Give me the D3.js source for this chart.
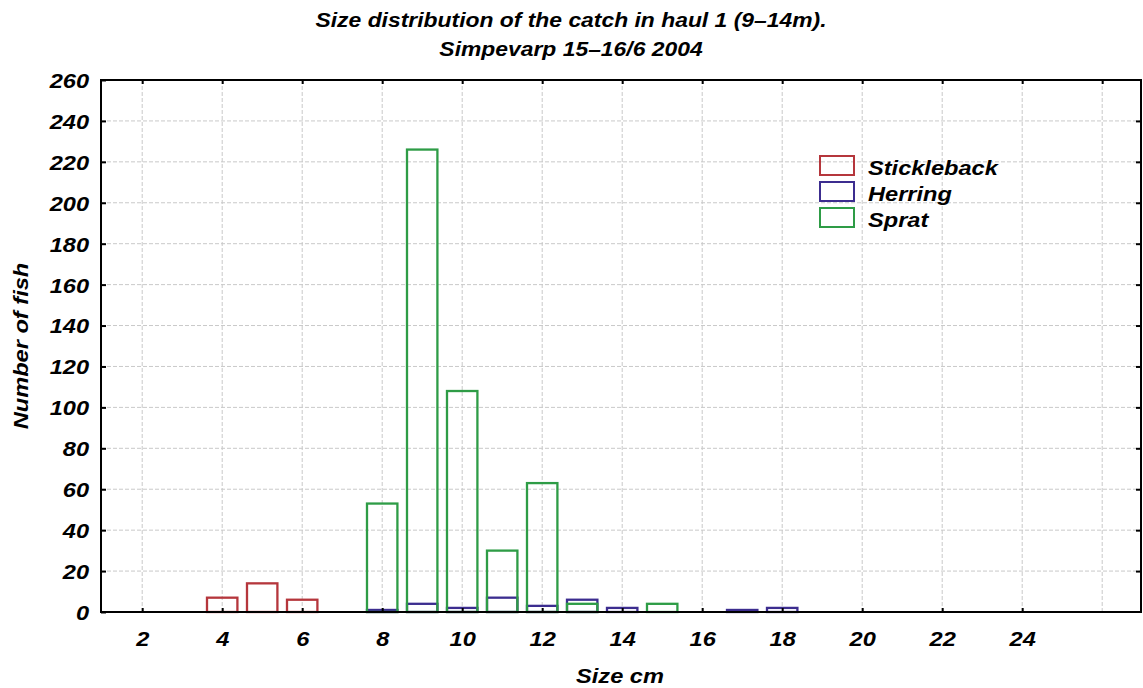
<!DOCTYPE html>
<html>
<head>
<meta charset="utf-8">
<script src="https://cdn.jsdelivr.net/npm/d3@7"></script>
<style>
  body { margin: 0; background: #fff; }
  text { font-family: "Liberation Sans", Arial, sans-serif; font-weight: bold; font-style: italic; fill: #000; }
</style>
</head>
<body>
<div id="chart"></div>
<script>
// Size classes (cm) and catch counts per species
var sizes       = [1, 2, 3, 4, 5, 6, 7, 8, 9, 10, 11, 12, 13, 14, 15, 16, 17, 18, 19, 20, 21, 22, 23, 24, 25, 26];
var stickleback = [0, 0, 0, 7, 14, 6, 0, 0, 0, 0, 0, 0, 0, 0, 0, 0, 0, 0, 0, 0, 0, 0, 0, 0, 0, 0];
var herring     = [0, 0, 0, 0, 0, 0, 0, 1, 4, 2, 7, 3, 6, 2, 0, 0, 1, 2, 0, 0, 0, 0, 0, 0, 0, 0];
var sprat       = [0, 0, 0, 0, 0, 0, 0, 53, 226, 108, 30, 63, 4, 0, 4, 0, 0, 0, 0, 0, 0, 0, 0, 0, 0, 0];

var seriesNames  = ["Stickleback", "Herring", "Sprat"];
var seriesColors = ["#b5363c", "#3c2d8f", "#2e9c46"];

var xTicks = [2, 4, 6, 8, 10, 12, 14, 16, 18, 20, 22, 24, 26];
var xLabels = [2, 4, 6, 8, 10, 12, 14, 16, 18, 20, 22, 24];
var yTicks = [0, 20, 40, 60, 80, 100, 120, 140, 160, 180, 200, 220, 240, 260];

var titleLines = ["Size distribution of the catch in haul 1 (9\u201314m).", "Simpevarp 15\u201316/6 2004"];

// Chart dimensions
var svgWidth = 1143;
var svgHeight = 688;
var margin = { top: 80, right: 2, bottom: 76, left: 101 };
var width = svgWidth - margin.left - margin.right;
var height = svgHeight - margin.top - margin.bottom;
var stretch = 1.18; // the original text is a bit wide

var svg = d3.select("#chart")
  .append("svg")
  .attr("width", svgWidth)
  .attr("height", svgHeight);

var chartGroup = svg.append("g")
  .attr("transform", `translate(${margin.left}, ${margin.top})`);

var xScale = d3.scaleLinear().domain([0.97, 26.97]).range([0, width]);
var yScale = d3.scaleLinear().domain([0, 260]).range([height, 0]);

// grid
chartGroup.selectAll(".vgrid")
  .data(xTicks)
  .enter()
  .append("line")
  .attr("x1", d => xScale(d)).attr("x2", d => xScale(d))
  .attr("y1", 0).attr("y2", height)
  .attr("stroke", "#c9c9c9").attr("stroke-width", 1)
  .attr("stroke-dasharray", "4,2");

chartGroup.selectAll(".hgrid")
  .data(yTicks.slice(1, -1))
  .enter()
  .append("line")
  .attr("x1", 0).attr("x2", width)
  .attr("y1", d => yScale(d)).attr("y2", d => yScale(d))
  .attr("stroke", "#c9c9c9").attr("stroke-width", 1)
  .attr("stroke-dasharray", "4,2");

// bars, all series on the same positions
var halfBar = 0.38;
var drawOrder = [1, 2, 0];
var seriesData = [stickleback, herring, sprat];
drawOrder.forEach(function(s) {
  chartGroup.append("g")
    .selectAll("rect")
    .data(sizes.map((v, i) => ({ size: v, count: seriesData[s][i] })))
    .enter()
    .append("rect")
    .attr("x", d => xScale(d.size - halfBar))
    .attr("width", d => xScale(d.size + halfBar) - xScale(d.size - halfBar))
    .attr("y", d => yScale(d.count))
    .attr("height", d => yScale(0) - yScale(d.count))
    .attr("fill", "none")
    .attr("stroke", seriesColors[s])
    .attr("stroke-width", 2.3);
});

// axes with inward ticks on all four sides
var bottomAxis = d3.axisBottom(xScale).tickValues(xLabels).tickSizeInner(-4).tickSizeOuter(0).tickPadding(20).tickFormat(d3.format("d"));
var topAxis = d3.axisTop(xScale).tickValues(xTicks).tickSizeInner(-4).tickSizeOuter(0).tickFormat("");
var leftAxis = d3.axisLeft(yScale).tickValues(yTicks).tickSizeInner(-5).tickSizeOuter(0).tickPadding(12).tickFormat(d3.format("d"));
var rightAxis = d3.axisRight(yScale).tickValues(yTicks.slice(1, -1)).tickSizeInner(-5).tickSizeOuter(0).tickFormat("");

var xAxis = chartGroup.append("g").attr("transform", `translate(0, ${height})`).call(bottomAxis);
var xAxisTop = chartGroup.append("g").call(topAxis);
var yAxis = chartGroup.append("g").call(leftAxis);
var yAxisRight = chartGroup.append("g").attr("transform", `translate(${width}, 0)`).call(rightAxis);

[xAxis, xAxisTop, yAxis, yAxisRight].forEach(function(ax) {
  ax.select(".domain").remove();
  ax.selectAll(".tick line").attr("stroke", "#000").attr("stroke-width", 2);
  ax.selectAll("text")
    .style("font-family", null)
    .attr("font-family", null)
    .style("font-size", "20px")
    .attr("fill", "#000");
});
xAxis.selectAll("text").attr("transform", `scale(${stretch},1)`);
yAxis.selectAll("text")
  .attr("x", -12 / stretch)
  .attr("dy", "0.37em")
  .attr("transform", `scale(${stretch},1)`);

// plot frame
chartGroup.append("rect")
  .attr("x", 0).attr("y", 0)
  .attr("width", width).attr("height", height)
  .attr("fill", "none")
  .attr("stroke", "#000")
  .attr("stroke-width", 2);

// title
titleLines.forEach(function(t, i) {
  svg.append("g")
    .attr("transform", `translate(571, ${27 + i * 29}) scale(${stretch},1)`)
    .append("text")
    .attr("text-anchor", "middle")
    .style("font-size", "19.4px")
    .text(t);
});

// axis labels
svg.append("g")
  .attr("transform", `translate(${margin.left + width / 2 - 1}, 683) scale(${stretch},1)`)
  .append("text")
  .attr("text-anchor", "middle")
  .style("font-size", "20px")
  .text("Size cm");

svg.append("g")
  .attr("transform", `translate(28, ${margin.top + height / 2}) rotate(-90) scale(${stretch},1)`)
  .append("text")
  .attr("text-anchor", "middle")
  .style("font-size", "20px")
  .text("Number of fish");

// legend
var legend = svg.append("g").attr("transform", "translate(820, 156)");
seriesNames.forEach(function(name, i) {
  var row = legend.append("g").attr("transform", `translate(0, ${i * 26})`);
  row.append("rect")
    .attr("x", 0).attr("y", 0)
    .attr("width", 34).attr("height", 19)
    .attr("fill", "none")
    .attr("stroke", seriesColors[i])
    .attr("stroke-width", 2);
  row.append("g")
    .attr("transform", `translate(48, 18.5) scale(${stretch},1)`)
    .append("text")
    .style("font-size", "20px")
    .text(name);
});
</script>
</body>
</html>
